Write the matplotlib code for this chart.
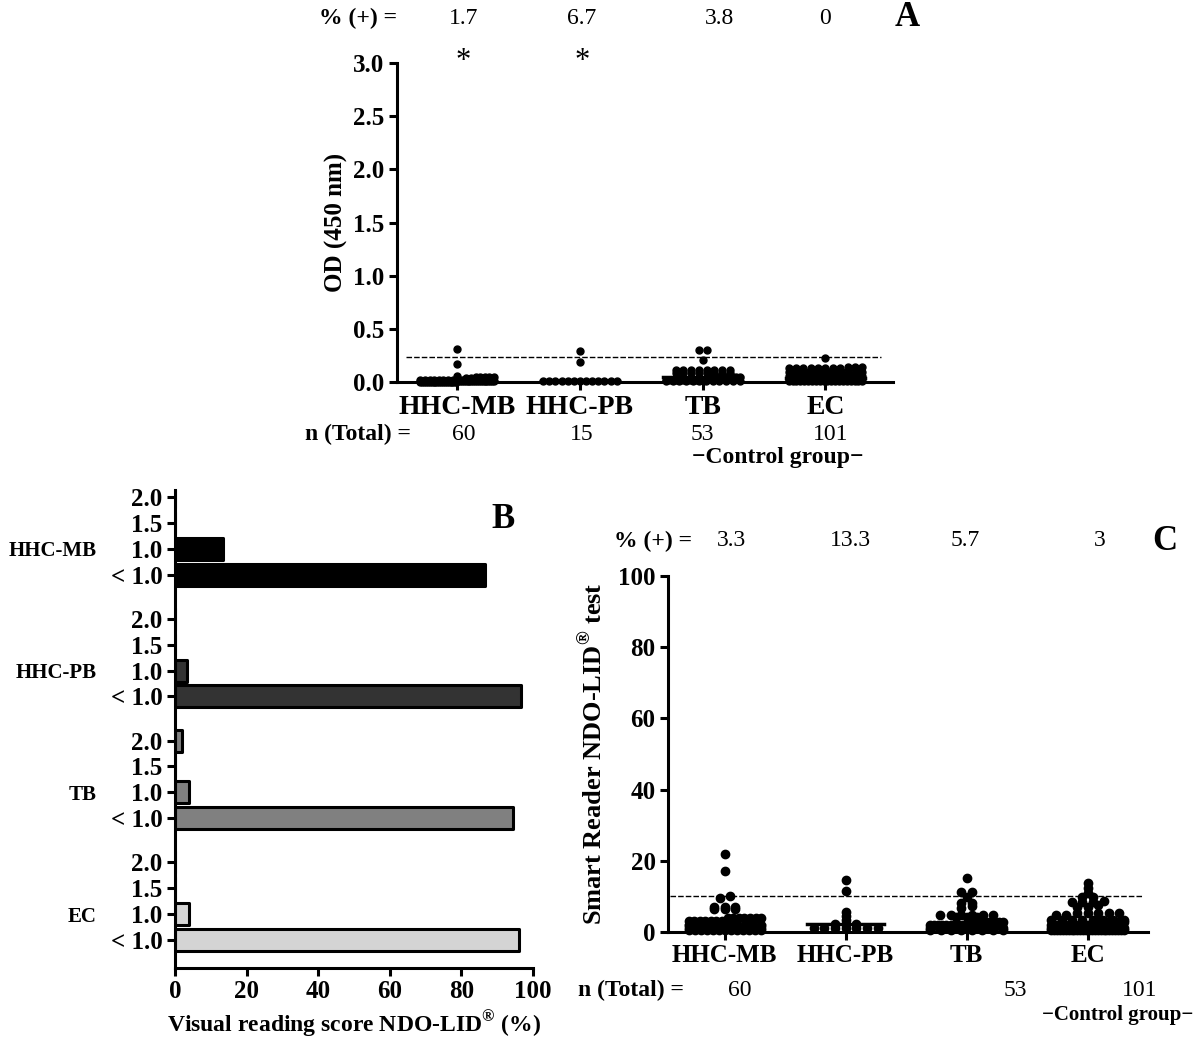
import numpy as np
import matplotlib
matplotlib.use('Agg')
import matplotlib.pyplot as plt
from matplotlib.transforms import blended_transform_factory as blend

plt.rcParams['font.family'] = ['Liberation Serif', 'DejaVu Serif']
plt.rcParams['font.weight'] = 'bold'
plt.rcParams['axes.labelweight'] = 'bold'
plt.rcParams['mathtext.fontset'] = 'custom'
plt.rcParams['mathtext.rm'] = 'Liberation Serif:bold'
plt.rcParams['mathtext.bf'] = 'Liberation Serif:bold'

# -------------------- data -------------------------
groups = ['HHC-MB', 'HHC-PB', 'TB', 'EC']
n_total = ['60', '15', '53', '101']

# panel A: ELISA OD values
pct_pos_a = ['1.7', '6.7', '3.8', '0']
od_cutoff = 0.235
od_hhc_mb = [0.31, 0.17, 0.06, 0.05, 0.05, 0.05, 0.05, 0.05, 0.04, 0.04,
             0.02, 0.02, 0.02, 0.02, 0.02, 0.02, 0.02, 0.02, 0.02, 0.02,
             0.01, 0.01, 0.01, 0.01, 0.01, 0.01, 0.01, 0.01, 0.01, 0.01,
             0.01, 0.01, 0.01, 0.01, 0.01, 0.01, 0.01, 0.01, 0.01, 0.01,
             0.0, 0.0, 0.0, 0.0, 0.0, 0.0, 0.0, 0.0, 0.0, 0.0,
             0.0, 0.0, 0.0, 0.0, 0.0, 0.0, 0.0, 0.0, 0.0, 0.0]
od_hhc_pb = [0.29, 0.185, 0.01, 0.01, 0.01, 0.01, 0.01, 0.01, 0.01, 0.01,
             0.01, 0.01, 0.01, 0.01, 0.01]
od_tb = [0.30, 0.30, 0.21,
         0.11, 0.11, 0.11, 0.11, 0.11, 0.11, 0.11, 0.11,
         0.08, 0.08, 0.08, 0.08, 0.08, 0.08, 0.08, 0.08,
         0.05, 0.05, 0.05, 0.05, 0.05, 0.05, 0.05, 0.05, 0.05, 0.05,
         0.02, 0.02, 0.02, 0.02, 0.02, 0.02, 0.02, 0.02, 0.02, 0.02, 0.02, 0.02,
         0.01, 0.01, 0.01, 0.01, 0.01, 0.01, 0.01, 0.01, 0.01, 0.01, 0.01, 0.01]
od_ec = [0.23, 0.14, 0.14, 0.14,
         0.13, 0.13, 0.13, 0.13, 0.13, 0.13, 0.13, 0.13,
         0.09, 0.09, 0.09, 0.09, 0.09, 0.09, 0.09, 0.09, 0.09, 0.09, 0.09, 0.09,
         0.06, 0.06, 0.06, 0.06, 0.06, 0.06, 0.06, 0.06, 0.06, 0.06, 0.06, 0.06, 0.06, 0.06, 0.06,
         0.04, 0.04, 0.04, 0.04, 0.04, 0.04, 0.04, 0.04, 0.04, 0.04,
         0.04, 0.04, 0.04, 0.04, 0.04, 0.04, 0.04, 0.04, 0.04, 0.04,
         0.02, 0.02, 0.02, 0.02, 0.02, 0.02, 0.02, 0.02, 0.02, 0.02, 0.02,
         0.02, 0.02, 0.02, 0.02, 0.02, 0.02, 0.02, 0.02, 0.02, 0.02, 0.02,
         0.01, 0.01, 0.01, 0.01, 0.01, 0.01, 0.01, 0.01, 0.01, 0.01,
         0.01, 0.01, 0.01, 0.01, 0.01, 0.01, 0.01, 0.01, 0.01, 0.01]

# panel B: visual reading score distribution (%)
score_labels = ['2.0', '1.5', '1.0', '< 1.0']
vis_hhc_mb = [0, 0, 13.3, 86.7]
vis_hhc_pb = [0, 0, 3.3, 96.7]
vis_tb = [1.9, 0, 3.8, 94.3]
vis_ec = [0, 0, 4.0, 96.0]

# panel C: smart reader values
pct_pos_c = ['3.3', '13.3', '5.7', '3']
sr_cutoff = 10
sr_hhc_mb = [22, 17, 10, 9.5, 7, 6.5, 6.5, 7, 6.5, 7,
             4, 4, 4, 4, 4, 4, 4,
             3, 3, 3, 3, 3, 3, 3,
             2, 2, 2, 2, 2, 2, 2, 2, 2, 2,
             1, 1, 1, 1, 1, 1, 1, 1, 1, 1, 1, 1, 1,
             0.5, 0.5, 0.5, 0.5, 0.5, 0.5, 0.5, 0.5, 0.5, 0.5, 0.5, 0.5, 0.5]
sr_hhc_pb = [14.6, 11.6, 5.7, 4.5, 3.4, 2.2, 2.2, 2.2, 1, 1, 1, 1, 1, 1, 1]
sr_tb = [15.1, 11.2, 11.2, 9.9, 8.1, 7.4, 8.1, 6.7,
         4.9, 4.9, 4.9, 4.9, 4.9, 4.9, 4.1, 4.1, 4.1,
         2.9, 2.9, 2.9, 2.9, 2.9, 2.9, 2.9, 2.9, 2.9,
         2, 2, 2, 2, 2, 2, 2, 2, 2, 2,
         1, 1, 1, 1, 1, 1, 1, 1, 1, 0.5, 0.5, 0.5, 0.5, 0.5, 0.5, 0.5, 0.5]
sr_ec = [13.7, 12.4, 10.9, 9.9, 9.9, 8.7, 8.5, 8.4, 8.4, 7.6, 7.0, 7.0,
         5.3, 5.3, 5.3, 5.3, 5.3, 4.8, 4.8,
         3.5, 3.5, 3.5, 3.5, 3.5, 3.5, 3.5, 3.5,
         2.8, 2.8, 2.8, 2.8, 2.8, 2.8, 2.8, 2.8, 2.8, 2.8,
         2, 2, 2, 2, 2, 2, 2, 2, 2, 2, 2, 2,
         1.2, 1.2, 1.2, 1.2, 1.2, 1.2, 1.2, 1.2, 1.2, 1.2, 1.2, 1.2, 1.2,
         1.2, 1.2, 1.2, 1.2, 1.2, 1.2, 1.2, 1.2, 1.2, 1.2, 1.2, 1.2, 1.2,
         0.5, 0.5, 0.5, 0.5, 0.5, 0.5, 0.5, 0.5, 0.5, 0.5, 0.5, 0.5, 0.5,
         0.5, 0.5, 0.5, 0.5, 0.5, 0.5, 0.5, 0.5, 0.5, 0.5, 0.5, 0.5, 0.5]


# -------------------- helpers -------------------------
def swarm(vals, bin_h, step, half_w):
    vals = np.sort(np.asarray(vals, float))
    xs = np.zeros(len(vals))
    bins = np.floor(vals / bin_h + 0.5)
    for b in np.unique(bins):
        idx = np.where(bins == b)[0]
        n = len(idx)
        if n > 1:
            d = min(step, 2 * half_w / (n - 1))
            xs[idx] = (np.arange(n) - (n - 1) / 2) * d
    return vals, xs


def style_axes(ax):
    for s in ['top', 'right']:
        ax.spines[s].set_visible(False)
    for s in ['left', 'bottom']:
        ax.spines[s].set_linewidth(2.2)
    ax.tick_params(width=2.2, length=6, labelsize=18, pad=3)


def fx(px):
    return px / 1200


def fy(py):
    return 1 - py / 1043


W = 1200
H = 1043
fig = plt.figure(figsize=(W / 100, H / 100), dpi=100)

# -------------------- panel A -------------------------
axA = fig.add_axes([fx(397), fy(382), fx(893) - fx(397), fy(63) - fy(382)])
style_axes(axA)
for i, vals in enumerate([od_hhc_mb, od_hhc_pb, od_tb, od_ec]):
    v, dx = swarm(vals, 0.035, 0.063, 0.3)
    axA.plot(i + dx, v, 'o', color='black', ms=5, clip_on=False, zorder=3)
    axA.plot([i - 0.32, i + 0.32], [np.median(vals)] * 2, color='black', lw=2.5,
             clip_on=False, zorder=3)
axA.plot([-0.42, 3.45], [od_cutoff, od_cutoff], '--', color='black', lw=1, dashes=(4, 1.5))
axA.set_xlim(-0.49, 3.55)
axA.set_ylim(0, 3)
axA.set_yticks(np.arange(0, 3.01, 0.5))
axA.set_yticklabels(['%.1f' % t for t in np.arange(0, 3.01, 0.5)])
axA.set_xticks(range(4))
axA.set_xticklabels(groups, fontsize=20)
axA.set_ylabel('OD (450 nm)', fontsize=18, labelpad=4)
fig.text(fx(358), fy(18), '% (+) =', fontsize=17, ha='center', va='center')
for x, t in zip([464, 582, 720, 825], pct_pos_a):
    fig.text(fx(x), fy(18), t, fontsize=17, fontweight='normal', ha='center', va='center')
for x in [463, 582]:
    fig.text(fx(x), fy(62), '*', fontsize=22, fontweight='normal', ha='center', va='center')
fig.text(fx(907), fy(18), 'A', fontsize=25, ha='center', va='center')
fig.text(fx(358), fy(434), 'n (Total) =', fontsize=17, ha='center', va='center')
for x, t in zip([464, 582, 702, 831], n_total):
    fig.text(fx(x), fy(434), t, fontsize=17, fontweight='normal', ha='center', va='center')
fig.text(fx(778), fy(458), '\u2212Control group\u2212', fontsize=17, ha='center', va='center')

# -------------------- panel B -------------------------
axB = fig.add_axes([fx(175), fy(968), fx(533) - fx(175), fy(490) - fy(968)])
style_axes(axB)
fills = ['black', '#333333', '#808080', '#d4d4d4']
ypos = []
for g, vals in enumerate([vis_hhc_mb, vis_hhc_pb, vis_tb, vis_ec]):
    y = 4.7 * g + np.arange(4)
    ypos.extend(y)
    axB.barh(y, vals, height=0.85, color=fills[g], edgecolor='black', lw=2.2,
             joinstyle='round', zorder=2)
    axB.text(fx(97), 4.7 * g + 2.1, groups[g], fontsize=15, ha='right', va='center',
             transform=blend(fig.transFigure, axB.transData))
axB.set_yticks(ypos)
axB.set_yticklabels(score_labels * 4)
axB.set_ylim(18.18, -0.27)
axB.set_xlim(0, 100)
axB.set_xticks(range(0, 101, 20))
axB.set_xlabel('Visual reading score NDO-LID$^{\u00ae}$ (%)', fontsize=17, labelpad=4)
fig.text(fx(503), fy(520), 'B', fontsize=25, ha='center', va='center')

# -------------------- panel C -------------------------
axC = fig.add_axes([fx(668), fy(932), fx(1148) - fx(668), fy(576) - fy(932)])
style_axes(axC)
for i, vals in enumerate([sr_hhc_mb, sr_hhc_pb, sr_tb, sr_ec]):
    v, dx = swarm(vals, 1.2, 0.088, 0.3)
    axC.plot(i + dx, v, 'o', color='black', ms=6, clip_on=False, zorder=3)
    axC.plot([i - 0.32, i + 0.32], [np.median(vals)] * 2, color='black', lw=2.5,
             clip_on=False, zorder=3)
axC.plot([-0.45, 3.45], [sr_cutoff, sr_cutoff], '--', color='black', lw=1, dashes=(4, 1.5))
axC.set_xlim(-0.47, 3.5)
axC.set_ylim(0, 100)
axC.set_yticks(range(0, 101, 20))
axC.set_xticks(range(4))
axC.set_xticklabels(groups)
axC.set_ylabel('Smart Reader NDO-LID$^{\u00ae}$ test', fontsize=19, labelpad=8)
fig.text(fx(653), fy(541), '% (+) =', fontsize=17, ha='center', va='center')
for x, t in zip([732, 850, 965, 1100], pct_pos_c):
    fig.text(fx(x), fy(541), t, fontsize=17, fontweight='normal', ha='center', va='center')
fig.text(fx(1165), fy(541), 'C', fontsize=25, ha='center', va='center')
fig.text(fx(631), fy(990), 'n (Total) =', fontsize=17, ha='center', va='center')
for x, t in zip([740, 1015, 1140], [n_total[0], n_total[2], n_total[3]]):
    fig.text(fx(x), fy(990), t, fontsize=17, fontweight='normal', ha='center', va='center')
fig.text(fx(1118), fy(1015), '\u2212Control group\u2212', fontsize=15, ha='center', va='center')

fig.savefig('out.png', dpi=100)
